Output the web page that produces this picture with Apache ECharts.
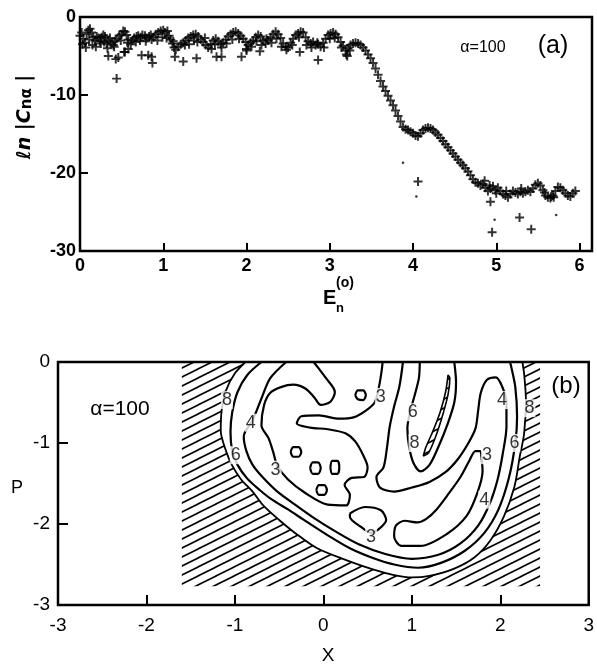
<!DOCTYPE html>
<html>
<head>
<meta charset="utf-8">
<script src="https://cdn.jsdelivr.net/npm/echarts@6/dist/echarts.min.js"></script>
<style>
  html, body { margin: 0; padding: 0; background: #fff; }
  #chart { width: 597px; height: 671px; }
</style>
</head>
<body>
<div id="chart"></div>
<script>
// ---- panel (a): ln|C_n,alpha| versus E_n^(0) ----
const upperBand = [
  [0.00,-2.4],[0.02,-2.0],[0.04,-2.8],[0.06,-3.3],[0.08,-2.2],[0.10,-1.7],[0.12,-1.5],[0.14,-2.0],[0.16,-2.6],[0.18,-3.0],
  [0.20,-2.5],[0.22,-2.7],[0.24,-3.1],[0.26,-2.6],[0.28,-2.3],[0.30,-2.5],[0.32,-3.4],[0.34,-3.0],[0.36,-2.7],[0.38,-3.3],
  [0.40,-3.6],[0.42,-3.1],[0.44,-2.8],[0.47,-2.4],[0.50,-2.2],[0.52,-1.8],[0.54,-1.9],[0.56,-2.3],[0.58,-2.9],[0.61,-3.5],
  [0.63,-3.0],[0.65,-2.7],[0.68,-2.5],[0.70,-2.4],[0.73,-2.6],[0.75,-2.3],[0.78,-2.4],[0.80,-2.7],[0.83,-2.5],[0.85,-2.3],
  [0.88,-2.6],[0.91,-2.2],[0.94,-2.0],[0.97,-1.8],[1.00,-1.7],[1.02,-2.0],[1.05,-1.8],[1.07,-2.4],[1.09,-2.9],[1.11,-3.4],
  [1.13,-3.9],[1.15,-4.2],[1.18,-3.8],[1.21,-3.5],[1.24,-3.3],[1.27,-3.0],[1.30,-2.7],[1.33,-2.5],[1.36,-2.3],[1.39,-2.2],
  [1.42,-2.5],[1.45,-2.9],[1.48,-3.2],[1.51,-3.6],[1.54,-3.9],[1.57,-3.5],[1.60,-3.0],[1.63,-2.8],[1.66,-3.1],[1.69,-3.5],
  [1.72,-3.3],[1.75,-2.9],[1.78,-2.5],[1.81,-2.2],[1.84,-2.0],[1.87,-1.9],[1.90,-2.1],[1.93,-2.4],[1.96,-2.8],[1.99,-3.2],
  [2.02,-3.6],[2.05,-3.3],[2.08,-3.0],[2.11,-2.6],[2.14,-2.3],[2.17,-2.5],[2.20,-3.0],[2.23,-3.4],[2.26,-3.0],[2.29,-2.6],
  [2.32,-2.2],[2.35,-1.9],[2.38,-2.2],[2.41,-2.7],[2.44,-3.4],[2.47,-3.8],[2.50,-3.9],[2.53,-3.3],[2.56,-2.8],[2.59,-2.3],
  [2.62,-2.1],[2.65,-1.9],[2.68,-2.0],[2.71,-2.6],[2.74,-3.1],[2.77,-3.4],[2.80,-3.2],[2.83,-3.6],[2.86,-3.5],[2.89,-3.8],
  [2.92,-3.3],[2.95,-2.8],[2.98,-2.3],[3.01,-2.1],[3.04,-2.0],[3.07,-2.2],[3.10,-2.6],[3.13,-3.2],[3.16,-3.7],[3.19,-4.3],
  [3.22,-4.0],[3.25,-3.6],[3.28,-3.4],[3.31,-3.3],[3.34,-3.4],[3.37,-3.6],[3.40,-3.9]
];
const lowerBand = [
  [0.03,-3.5],[0.07,-3.9],[0.11,-2.9],[0.15,-3.6],[0.19,-3.8],[0.25,-3.4],[0.29,-3.2],[0.33,-4.0],[0.41,-3.8],[0.49,-3.0],
  [0.53,-4.5],[0.57,-3.3],[0.67,-3.2],[0.72,-3.0],[0.79,-3.1],[0.86,-2.9],[0.93,-3.0],[0.99,-2.6],[1.04,-2.7],[1.12,-3.1],
  [1.26,-3.6],[1.31,-3.5],[1.37,-3.0],[1.41,-3.2],[1.50,-2.7],[1.58,-4.1],[1.62,-3.5],[1.70,-3.9],[1.76,-3.4],[1.83,-2.9],
  [1.91,-2.8],[2.00,-4.1],[2.06,-3.8],[2.12,-3.1],[2.18,-3.6],[2.24,-2.8],[2.30,-3.3],[2.36,-2.8],[2.42,-3.8],[2.48,-4.2],
  [2.55,-3.6],[2.63,-2.6],[2.72,-3.6],[2.78,-3.9],[2.85,-3.3],[2.93,-3.9],[3.00,-2.8],[3.06,-2.7],[3.14,-3.9],[3.20,-4.8],
  [3.24,-4.3]
];
const scattered = [
  [0.34,-5.0],[0.43,-5.4],[0.44,-7.9],[0.46,-5.2],[0.54,-4.5],[0.58,-4.1],[0.74,-4.9],[0.82,-4.9],[0.86,-5.1],[0.87,-5.9],
  [1.14,-5.1],[1.24,-5.7],[1.40,-5.3],[1.64,-5.1],[1.70,-5.1],[1.94,-5.1],[2.00,-4.3],[2.16,-4.4],[2.64,-4.5],[2.86,-5.5],
  [3.21,-5.0],[4.06,-21.1],[4.93,-23.7],[4.95,-27.6],[5.28,-25.7],[5.42,-27.2]
];
const descent = [
  [3.43,-4.3],[3.46,-4.8],[3.49,-5.3],[3.52,-5.9],[3.55,-6.6],[3.58,-7.4],[3.61,-8.2],[3.64,-8.9],[3.67,-9.5],[3.70,-10.1],
  [3.73,-10.7],[3.76,-11.3],[3.79,-12.0],[3.82,-12.7],[3.85,-13.4],[3.88,-14.1],[3.91,-14.4],[3.94,-14.5],[3.97,-14.7],[4.00,-14.9],
  [4.03,-15.2],[4.06,-15.3],[4.09,-14.9],[4.12,-14.5],[4.15,-14.3],[4.18,-14.2],[4.21,-14.3],[4.24,-14.5],[4.27,-14.8],[4.30,-15.1],
  [4.33,-15.5],[4.36,-15.9],[4.39,-16.3],[4.42,-16.7],[4.45,-17.1],[4.48,-17.5],[4.51,-17.9],[4.54,-18.3],[4.57,-18.7],[4.60,-19.0],
  [4.63,-19.4],[4.66,-19.8],[4.69,-20.3],[4.72,-20.8],[4.75,-21.2],[4.78,-21.3],[4.81,-21.6],[4.84,-21.4],[4.87,-21.9],[4.90,-22.3],
  [4.93,-22.0],[4.96,-21.7],[4.99,-22.2],[5.02,-21.9],[5.05,-22.3],[5.08,-22.7],[5.11,-22.9],[5.14,-23.1],[5.17,-22.7],[5.20,-22.3],
  [5.23,-22.5],[5.26,-22.7],[5.29,-22.4],[5.32,-22.6],[5.35,-22.4],[5.38,-22.2],[5.41,-22.4],[5.44,-22.0],[5.47,-21.5],[5.50,-21.3],
  [5.53,-21.6],[5.56,-22.2],[5.59,-22.9],[5.62,-23.1],[5.65,-23.2],[5.68,-22.9],[5.71,-22.3],[5.74,-21.8],[5.77,-21.9],[5.80,-22.2],
  [5.83,-22.6],[5.86,-22.9],[5.89,-23.0],[5.92,-22.6],[5.95,-22.3],
  [4.86,-21.0],[4.92,-21.6],[5.00,-22.6],[5.12,-22.3],[5.30,-22.0],[5.58,-22.5],[5.66,-23.0],[5.69,-23.1]
];
const dots = [[3.88,-18.7],[4.04,-23.0],[4.98,-26.0],[5.72,-25.4]];

// ---- panel (b): contour lines in the (x, p) plane ----
const c8 = [[-0.88,0],[-1.0,-0.14],[-1.1,-0.35],[-1.15,-0.6],[-1.16,-0.85],[-1.1,-1.1],[-1.03,-1.28],[-0.93,-1.45],
  [-0.8,-1.6],[-0.68,-1.77],[-0.5,-1.95],[-0.32,-2.11],[-0.07,-2.3],[0.22,-2.43],[0.56,-2.56],[0.8,-2.63],[1.0,-2.66],
  [1.2,-2.64],[1.48,-2.55],[1.71,-2.41],[1.89,-2.2],[2.04,-1.91],[2.16,-1.54],[2.22,-1.17],[2.27,-0.88],[2.29,-0.47],
  [2.27,-0.15],[2.25,0]];
const c6 = [[-0.70,0],[-0.86,-0.16],[-0.97,-0.37],[-1.03,-0.62],[-1.05,-0.86],[-1.03,-1.1],[-0.97,-1.27],[-0.86,-1.44],
  [-0.72,-1.58],[-0.58,-1.7],[-0.4,-1.82],[-0.22,-1.95],[0.05,-2.14],[0.3,-2.3],[0.56,-2.42],[0.8,-2.5],[1.07,-2.54],
  [1.33,-2.48],[1.6,-2.33],[1.82,-2.11],[1.98,-1.82],[2.1,-1.42],[2.17,-1.0],[2.19,-0.68],[2.17,-0.31],[2.12,-0.04],[2.11,0]];
const c4 = [[-0.42,0],[-0.6,-0.2],[-0.7,-0.45],[-0.8,-0.72],[-0.9,-0.92],[-0.87,-1.1],[-0.8,-1.27],[-0.68,-1.43],
  [-0.52,-1.6],[-0.32,-1.76],[-0.1,-1.93],[0.15,-2.1],[0.4,-2.25],[0.7,-2.37],[1.0,-2.43],[1.3,-2.38],[1.55,-2.24],
  [1.75,-2.02],[1.88,-1.75],[1.97,-1.45],[2.03,-1.12],[2.07,-0.8],[2.07,-0.5],[2.02,-0.3],[1.95,-0.19],[1.85,-0.22],
  [1.78,-0.38],[1.75,-0.6],[1.72,-0.82],[1.64,-1.0],[1.52,-1.2],[1.38,-1.36],[1.2,-1.48],[1.0,-1.55],[0.8,-1.6],
  [0.64,-1.55],[0.6,-1.42],[0.68,-1.3],[0.72,-1.05],[0.75,-0.8],[0.8,-0.55],[0.86,-0.3],[0.9,0]];
const c3big = [[-0.11,0],[-0.06,-0.07],[0.03,-0.2],[0.13,-0.37],[0.08,-0.49],[-0.03,-0.53],[-0.1,-0.44],[-0.2,-0.33],
  [-0.34,-0.28],[-0.48,-0.31],[-0.6,-0.38],[-0.67,-0.53],[-0.7,-0.78],[-0.62,-0.94],[-0.57,-1.1],[-0.52,-1.28],
  [-0.4,-1.45],[-0.2,-1.62],[0.05,-1.76],[0.26,-1.77],[0.3,-1.64],[0.24,-1.52],[0.32,-1.43],[0.46,-1.42],[0.5,-1.3],
  [0.45,-1.15],[0.36,-0.98],[0.25,-0.88],[0.05,-0.83],[-0.15,-0.81],[-0.3,-0.76],[-0.25,-0.67],[-0.05,-0.66],
  [0.18,-0.7],[0.35,-0.68],[0.48,-0.6],[0.58,-0.5],[0.63,-0.3],[0.66,-0.1],[0.67,0]];
const c6mid = [[1.09,0],[1.08,-0.2],[1.03,-0.42],[0.98,-0.62],[0.95,-0.82],[0.97,-1.05],[1.02,-1.25],[1.1,-1.35],
  [1.2,-1.27],[1.3,-1.05],[1.4,-0.78],[1.48,-0.5],[1.5,-0.25],[1.48,0]];
const c3hook = [[1.78,-1.1],[1.8,-1.35],[1.74,-1.62],[1.62,-1.9],[1.4,-2.12],[1.1,-2.27],[0.88,-2.27],[0.8,-2.15],
  [0.82,-2.02],[0.92,-1.96],[1.06,-1.98],[1.16,-1.94],[1.28,-1.82],[1.42,-1.62],[1.55,-1.42],[1.65,-1.22],[1.72,-1.1],[1.78,-1.1]];
const c3low = [[0.3,-1.87],[0.47,-1.79],[0.65,-1.83],[0.71,-1.95],[0.62,-2.07],[0.54,-2.11],[0.43,-2.04],[0.3,-1.91],[0.3,-1.87]];
const loopA = [[0.36,-0.41],[0.39,-0.35],[0.45,-0.35],[0.48,-0.41],[0.45,-0.47],[0.39,-0.46],[0.36,-0.41]];
const loopB = [[-0.37,-1.11],[-0.34,-1.05],[-0.28,-1.05],[-0.25,-1.11],[-0.28,-1.17],[-0.34,-1.17],[-0.37,-1.11]];
const loopC = [[-0.15,-1.31],[-0.12,-1.24],[-0.06,-1.24],[-0.03,-1.31],[-0.06,-1.38],[-0.12,-1.38],[-0.15,-1.31]];
const loopD = [[0.08,-1.3],[0.1,-1.22],[0.16,-1.22],[0.18,-1.3],[0.16,-1.38],[0.1,-1.38],[0.08,-1.3]];
const loopE = [[-0.08,-1.58],[-0.05,-1.52],[0.01,-1.52],[0.04,-1.58],[0.01,-1.64],[-0.05,-1.64],[-0.08,-1.58]];
const sliver = [[1.41,-0.16],[1.38,-0.38],[1.32,-0.62],[1.24,-0.85],[1.16,-1.05],[1.13,-1.16],[1.19,-1.12],
  [1.27,-0.92],[1.35,-0.65],[1.41,-0.4],[1.43,-0.2],[1.41,-0.16]];
const contourLabels = [
  [-1.09,-0.47,'8'],[-0.82,-0.75,'4'],[-0.99,-1.15,'6'],[-0.54,-1.33,'3'],[0.65,-0.43,'3'],[1.01,-0.62,'6'],
  [1.03,-1.0,'8'],[2.02,-0.47,'4'],[2.33,-0.57,'8'],[2.16,-1.0,'6'],[1.85,-1.15,'3'],[1.82,-1.7,'4'],[0.54,-2.16,'3']
];
const hatchLeft = -1.6, hatchRight = 2.45, hatchBottom = -2.77;

const hatchCanvas = document.createElement('canvas');
hatchCanvas.width = 18;
hatchCanvas.height = 9;
const hctx = hatchCanvas.getContext('2d');
hctx.strokeStyle = '#000';
hctx.lineWidth = 1.6;
[-9, 0, 9].forEach(d => {
  hctx.beginPath();
  hctx.moveTo(-2, 10 + d);
  hctx.lineTo(20, -1 + d);
  hctx.stroke();
});

const hatchOutline = [[hatchLeft, 0]].concat(c8, [[hatchRight, 0], [hatchRight, hatchBottom], [hatchLeft, hatchBottom]]);

function hatchSeries(points) {
  return {
    type: 'custom',
    xAxisIndex: 1,
    yAxisIndex: 1,
    silent: true,
    z: 1,
    data: [[0, 0]],
    renderItem: function (params, api) {
      return {
        type: 'polygon',
        shape: { points: points.map(p => api.coord(p)) },
        style: { fill: { image: hatchCanvas, repeat: 'repeat' }, stroke: null }
      };
    }
  };
}

const plusSymbol = 'path://M3.9,0H6.1V3.9H10V6.1H6.1V10H3.9V6.1H0V3.9H3.9Z';
function plusSeries(data, size) {
  return {
    type: 'scatter',
    xAxisIndex: 0,
    yAxisIndex: 0,
    symbol: plusSymbol,
    symbolSize: size,
    itemStyle: { color: '#000' },
    data: data
  };
}
function contourLine(data, width) {
  return {
    type: 'line',
    xAxisIndex: 1,
    yAxisIndex: 1,
    showSymbol: false,
    smooth: 0.3,
    z: 3,
    lineStyle: { color: '#000', width: width || 2.2 },
    data: data
  };
}

const topLabel = { color: '#000', fontSize: 18, fontWeight: 'bold', fontFamily: 'Liberation Sans' };
const botLabel = { color: '#000', fontSize: 19, fontFamily: 'Liberation Sans' };
const tickStyle = { color: '#000', width: 2 };

const chart = echarts.init(document.getElementById('chart'));
chart.setOption({
  animation: false,
  grid: [
    { left: 80, top: 17, width: 512, height: 234, show: true, borderColor: '#000', borderWidth: 2.5 },
    { left: 58, top: 362, width: 534, height: 243, show: true, borderColor: '#000', borderWidth: 2.5 }
  ],
  xAxis: [
    {
      gridIndex: 0, type: 'value', min: 0, max: 6.15, interval: 1, position: 'bottom',
      axisLine: { show: false, onZero: false }, splitLine: { show: false },
      axisTick: { inside: true, length: 8, lineStyle: tickStyle },
      axisLabel: Object.assign({ margin: 6, showMaxLabel: false,
        formatter: v => (Number.isInteger(v) ? String(v) : '') }, topLabel)
    },
    {
      gridIndex: 1, type: 'value', min: -3, max: 3, interval: 1, position: 'bottom',
      axisLine: { show: false, onZero: false }, splitLine: { show: false },
      axisTick: { inside: true, length: 10, lineStyle: tickStyle },
      axisLabel: Object.assign({ margin: 11 }, botLabel)
    }
  ],
  yAxis: [
    {
      gridIndex: 0, type: 'value', min: -30, max: 0, interval: 10, position: 'left',
      axisLine: { show: false, onZero: false }, splitLine: { show: false },
      axisTick: { inside: true, length: 8, lineStyle: tickStyle },
      axisLabel: Object.assign({ margin: 4 }, topLabel)
    },
    {
      gridIndex: 1, type: 'value', min: -3, max: 0, interval: 1, position: 'left',
      axisLine: { show: false, onZero: false }, splitLine: { show: false },
      axisTick: { inside: true, length: 10, lineStyle: tickStyle },
      axisLabel: Object.assign({ margin: 8 }, botLabel)
    }
  ],
  series: [
    plusSeries(upperBand, 9),
    plusSeries(lowerBand, 9),
    plusSeries(scattered, 9),
    plusSeries(descent, 9),
    {
      type: 'scatter', xAxisIndex: 0, yAxisIndex: 0, symbol: 'circle', symbolSize: 2.5,
      itemStyle: { color: '#000' }, data: dots
    },
    hatchSeries(hatchOutline),
    hatchSeries(sliver),
    contourLine(c8, 1.8),
    contourLine(c6),
    contourLine(c4),
    contourLine(c3big),
    contourLine(c6mid),
    contourLine(c3hook),
    contourLine(c3low),
    contourLine(loopA), contourLine(loopB), contourLine(loopC), contourLine(loopD), contourLine(loopE),
    contourLine(sliver, 1.6),
    {
      type: 'scatter', xAxisIndex: 1, yAxisIndex: 1, symbolSize: 1, z: 5,
      itemStyle: { color: 'rgba(0,0,0,0)' },
      data: contourLabels,
      label: {
        show: true, position: 'inside', formatter: p => p.value[2],
        color: '#000', fontSize: 18, fontFamily: 'Liberation Sans',
        backgroundColor: '#fff', padding: [0, 1]
      }
    }
  ],
  graphic: [
    { type: 'text', x: 25, y: 117, rotation: Math.PI / 2,
      style: { text: '{a|ℓn |C}{s|nα}{a| |}', align: 'center', verticalAlign: 'middle',
        rich: { a: { fontSize: 19, fontWeight: 'bold', fontStyle: 'italic', fontFamily: 'DejaVu Sans', fill: '#000' },
                s: { fontSize: 15, fontWeight: 'bold', fontFamily: 'DejaVu Sans', fill: '#000', verticalAlign: 'bottom' } } } },
    { type: 'text', x: 323, y: 298, style: { text: 'E', fontSize: 20, fontWeight: 'bold', fontFamily: 'Liberation Sans', fill: '#000', verticalAlign: 'middle' } },
    { type: 'text', x: 336, y: 283, style: { text: '(o)', fontSize: 14, fontWeight: 'bold', fontFamily: 'Liberation Sans', fill: '#000', verticalAlign: 'middle' } },
    { type: 'text', x: 336, y: 308, style: { text: 'n', fontSize: 13, fontWeight: 'bold', fontFamily: 'Liberation Sans', fill: '#000', verticalAlign: 'middle' } },
    { type: 'text', x: 483, y: 48, style: { text: 'α=100', fontSize: 16, fontFamily: 'Liberation Sans', fill: '#000', align: 'center', verticalAlign: 'middle' } },
    { type: 'text', x: 553, y: 46, style: { text: '(a)', fontSize: 25, fontFamily: 'Liberation Sans', fill: '#000', align: 'center', verticalAlign: 'middle' } },
    { type: 'text', x: 120, y: 409, style: { text: 'α=100', fontSize: 21, fontFamily: 'Liberation Sans', fill: '#000', align: 'center', verticalAlign: 'middle' } },
    { type: 'text', x: 566, y: 386, style: { text: '(b)', fontSize: 24, fontFamily: 'Liberation Sans', fill: '#000', align: 'center', verticalAlign: 'middle' } },
    { type: 'text', x: 17, y: 488, style: { text: 'P', fontSize: 18, fontFamily: 'Liberation Sans', fill: '#000', align: 'center', verticalAlign: 'middle' } },
    { type: 'text', x: 328, y: 656, style: { text: 'X', fontSize: 19, fontFamily: 'Liberation Sans', fill: '#000', align: 'center', verticalAlign: 'middle' } }
  ]
});
</script>
</body>
</html>
